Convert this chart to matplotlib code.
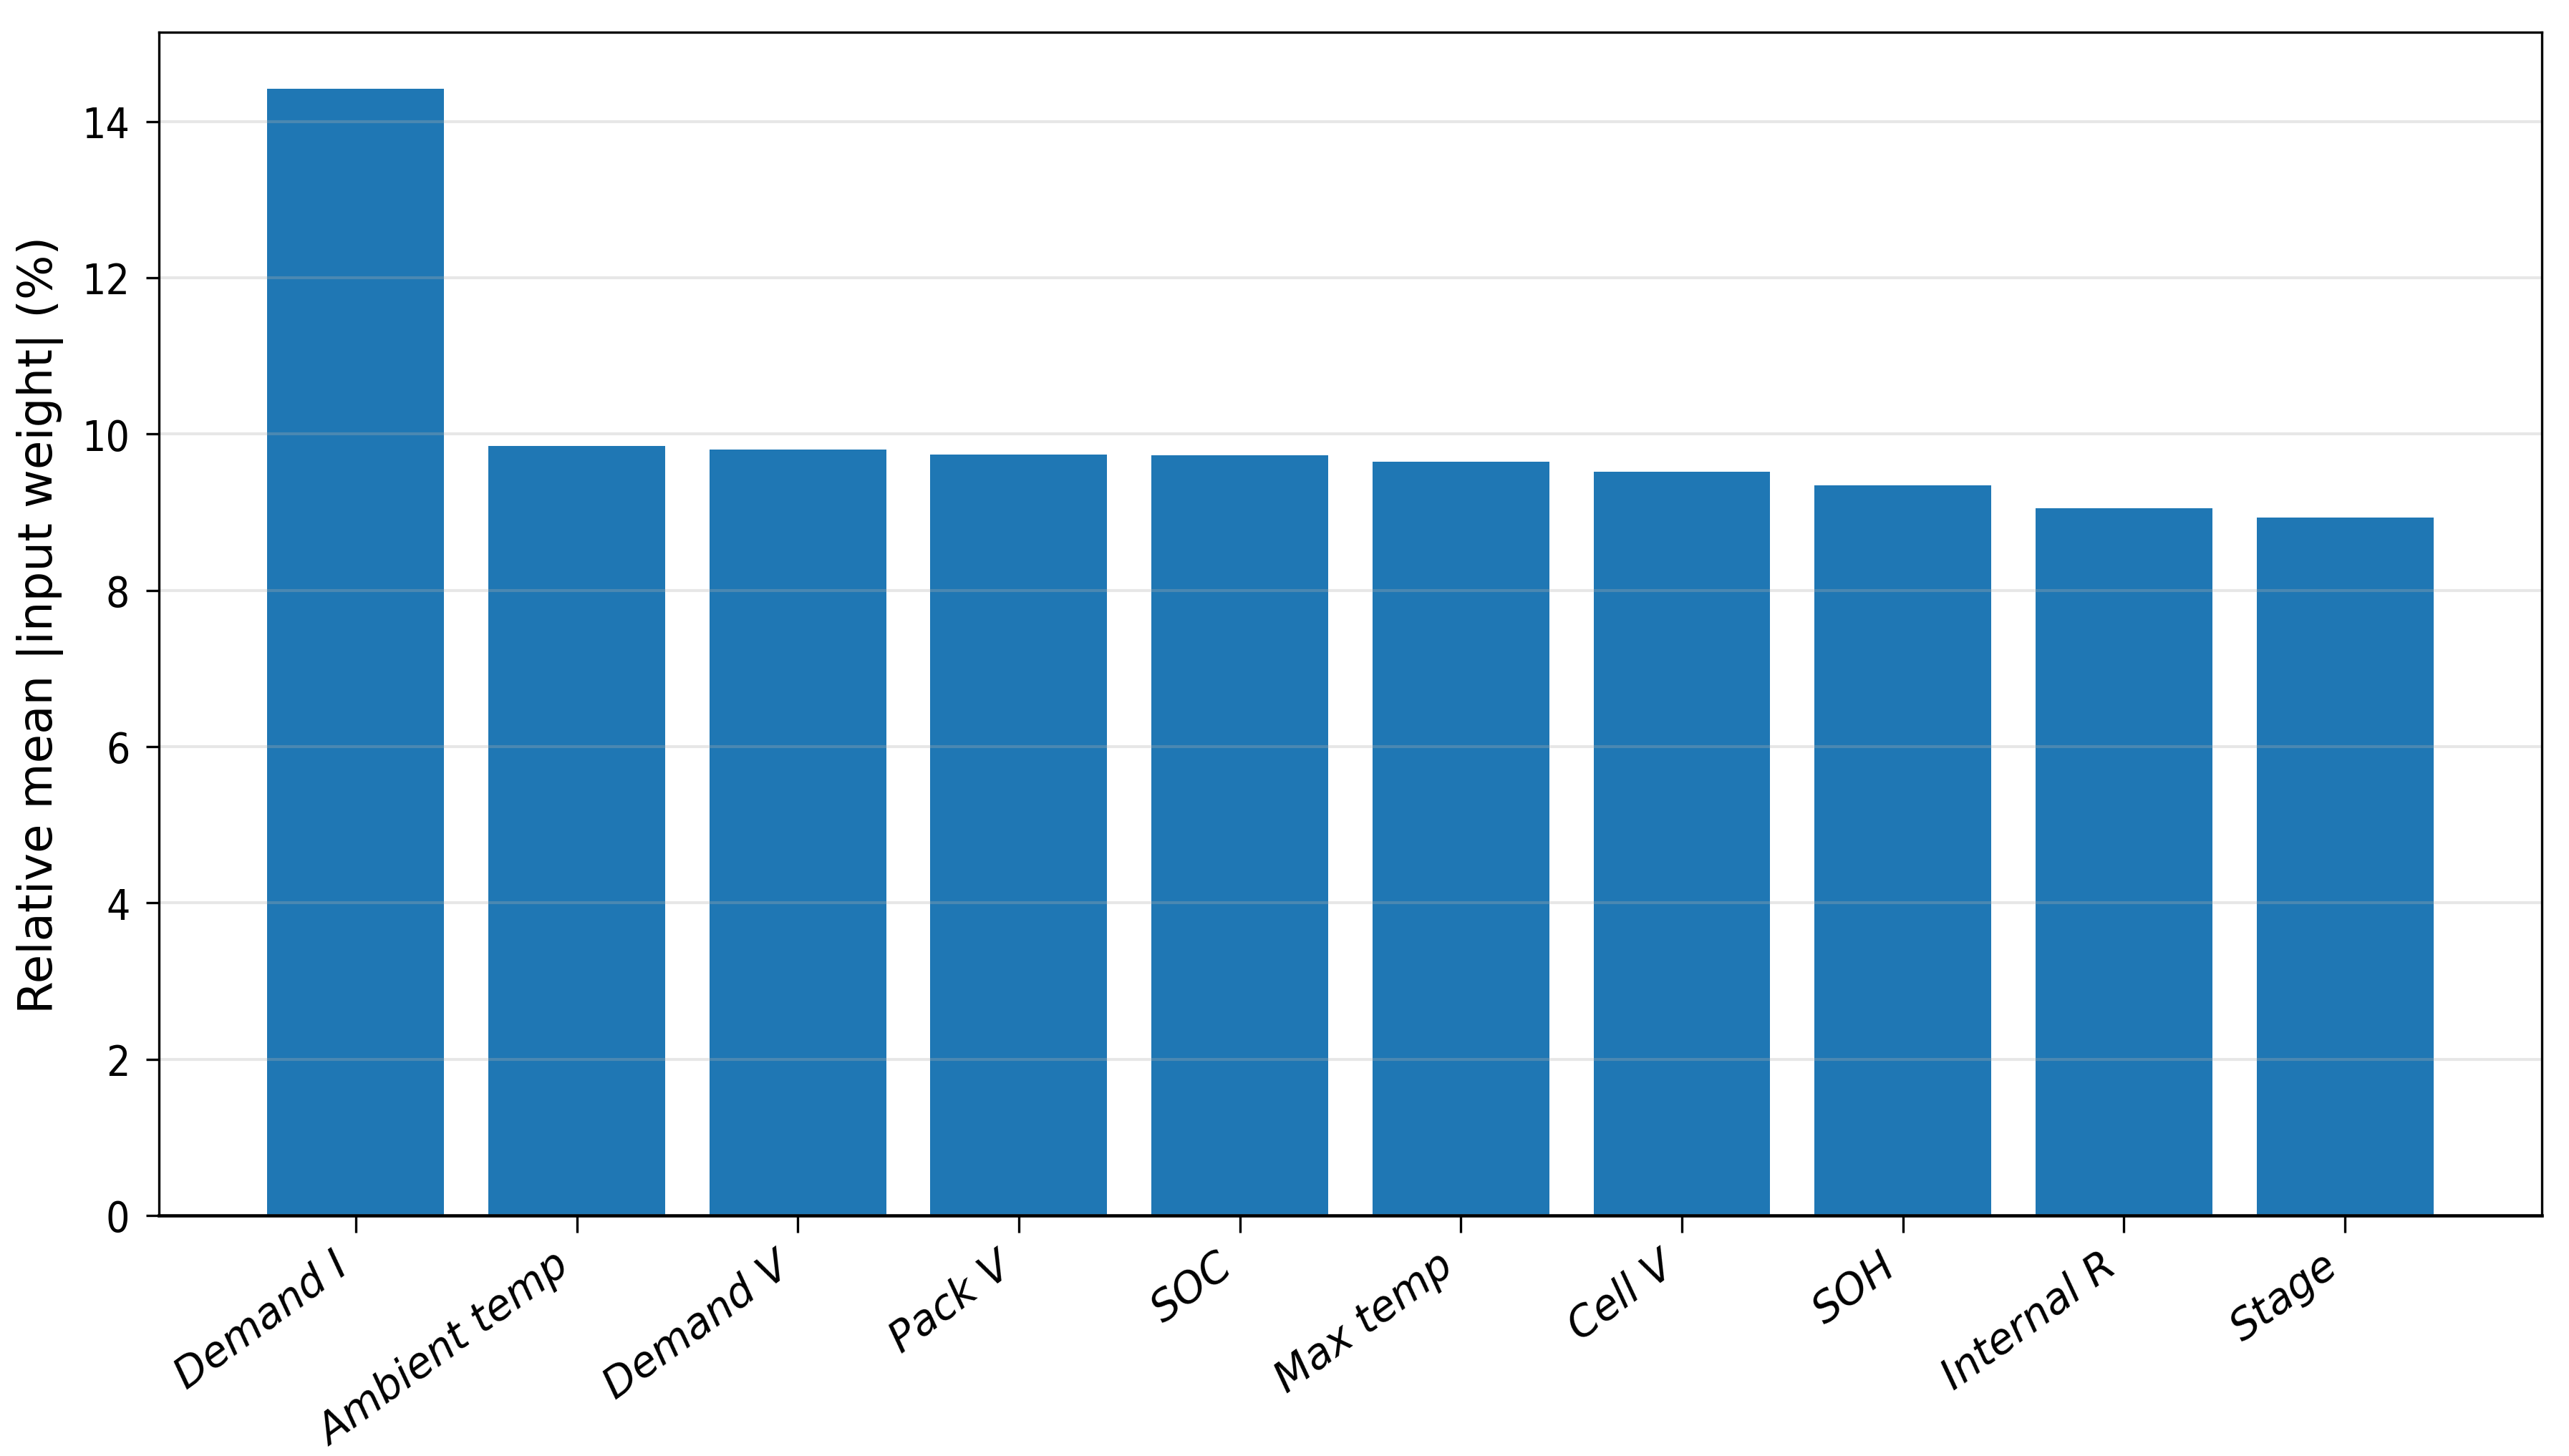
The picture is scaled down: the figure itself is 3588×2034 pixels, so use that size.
import matplotlib
matplotlib.use("Agg")
import matplotlib.pyplot as plt

# feature importance values
features = ["Demand I", "Ambient temp", "Demand V", "Pack V", "SOC",
            "Max temp", "Cell V", "SOH", "Internal R", "Stage"]
weights = [14.42, 9.85, 9.80, 9.735, 9.73, 9.65, 9.52, 9.34, 9.05, 8.93]

plt.rcParams["font.family"] = ["DejaVu Sans"]

fig, ax = plt.subplots(figsize=(11.963, 6.783), dpi=300)
fig.subplots_adjust(left=0.0619, right=0.9891, top=0.9774, bottom=1 - 1699 / 2035)

ax.bar(range(len(features)), weights, color="#1f77b4")
ax.set_xticks(range(len(features)))
ax.set_xticklabels(features, rotation=36, ha="right", fontsize=14, style="italic")
ax.tick_params(axis="x", length=5.8, pad=4)
ax.tick_params(axis="y", labelsize=14, length=4.3, pad=5.5)
for lab in ax.get_yticklabels():
    lab.set_fontstretch("condensed")
ax.set_ylabel("Relative mean |input weight| (%)", fontsize=15.8, labelpad=6)
ax.spines["bottom"].set_linewidth(1.1)
ax.grid(axis="y", alpha=0.3, linewidth=1.0)

fig.savefig("out.png", dpi=300)
